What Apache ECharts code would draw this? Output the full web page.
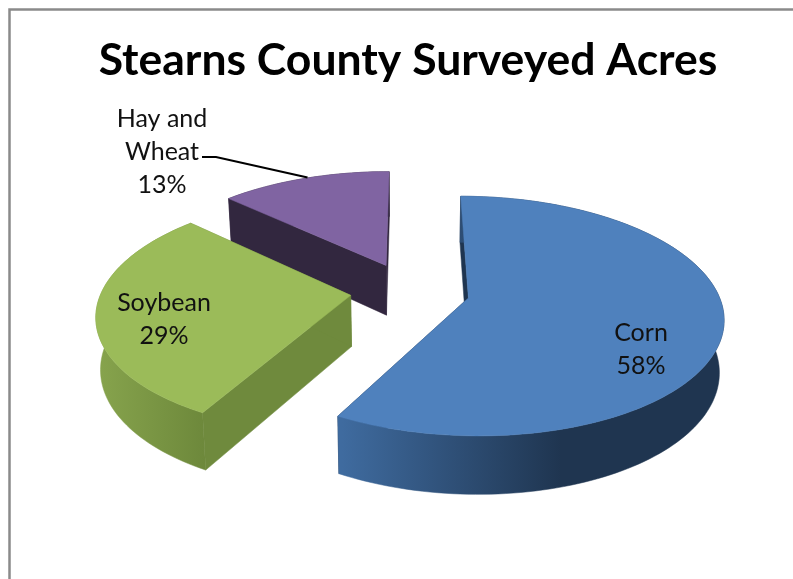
<!DOCTYPE html>
<html>
<head>
<meta charset="utf-8">
<style>html,body{margin:0;padding:0;background:#fff}#c{width:793px;height:579px}</style>
<script src="https://cdn.jsdelivr.net/npm/echarts@6/dist/echarts.min.js"></script>
</head>
<body>
<div id="c"></div>
<script>
const titleText = 'Stearns County Surveyed Acres';
const categories = ['Corn', 'Soybean', 'Hay and\nWheat'];
const percentValues = [58, 29, 13];

// 3D projection settings (layout only)
const view = {vx: 410, cy: 291, R: 249, K: 115, p: 0.15, H: 51, g: 0.985};
const explodeBy = [0.24, 0.24, 0.25];
const topColors = ['#4f81bd', '#9bbb59', '#8064a2'];
const cutColors = ['#1f3550', '#6f8a3d', '#32273f'];
const wallStops = [
  [[0, '#3f6b9f'], [0.58, '#1f3550'], [1, '#1f3550']],
  [[0, '#87a44d'], [1, '#6d883b']],
  [[0, '#32273f'], [1, '#32273f']]
];
const wallSpan = [[342, 720], [96, 206], [232, 388]];
const paintOrder = [3, 2, 1];
const labelAt = [[641, 349], [164, 319], [162, 152]];

const total = percentValues.reduce((a, b) => a + b, 0);
function project(X, Y, bottom) {
  const s = 1 / (1 - view.p * Y);
  const g = bottom ? view.g : 1;
  return [view.vx + X * view.R * s * g, view.cy + view.K * Y * s * g + (bottom ? view.H * s : 0)];
}
function renderSlice(params, api) {
  const i = params.dataIndex;
  const before = percentValues.slice(0, i).reduce((a, b) => a + b, 0);
  const a0 = before / total * Math.PI * 2;
  const a1 = (before + api.value(0)) / total * Math.PI * 2;
  const mid = (a0 + a1) / 2;
  const ox = Math.sin(mid) * explodeBy[i], oy = -Math.cos(mid) * explodeBy[i];
  const rim = [];
  const steps = Math.ceil((a1 - a0) / (Math.PI / 120));
  for (let k = 0; k <= steps; k++) {
    const a = a0 + (a1 - a0) * k / steps;
    rim.push([ox + Math.sin(a), oy - Math.cos(a)]);
  }
  const P = (q, b) => project(q[0], q[1], b);
  const apex = [ox, oy];
  const base = paintOrder[i] * 10;
  const first = rim[0], last = rim[rim.length - 1];
  const poly = (points, fill, z) => ({type: 'polygon', z2: base + z, shape: {points}, style: {fill, stroke: fill, lineWidth: 0.5}});
  const children = [
    poly([P(apex), P(first), P(first, true), P(apex, true)], cutColors[i], 1),
    poly([P(apex), P(last), P(last, true), P(apex, true)], cutColors[i], 1),
    poly(rim.map(q => P(q)).concat(rim.slice().reverse().map(q => P(q, true))), {
      type: 'linear', global: true, x: wallSpan[i][0], y: 0, x2: wallSpan[i][1], y2: 0,
      colorStops: wallStops[i].map(s => ({offset: s[0], color: s[1]}))
    }, 2),
    poly([P(apex)].concat(rim.map(q => P(q))), topColors[i], 3)
  ];
  children.push({
    type: 'text', z2: 100,
    style: {
      text: categories[i] + '\n' + api.value(0) + '%',
      x: labelAt[i][0], y: labelAt[i][1], align: 'center', verticalAlign: 'middle',
      fontFamily: 'Lato', fontSize: 25, lineHeight: 33, fill: '#111'
    }
  });
  if (i === 2) {
    const end = P([ox + Math.sin(mid), oy - Math.cos(mid)]);
    children.push({
      type: 'polyline', z2: 99,
      shape: {points: [[202, 157], [216, 157], [end[0] + 3, end[1] - 1]]},
      style: {stroke: '#000', lineWidth: 2, fill: null}
    });
  }
  return {type: 'group', children};
}
const chart = echarts.init(document.getElementById('c'), null, {renderer: 'canvas'});
chart.setOption({
  animation: false,
  backgroundColor: '#fff',
  title: {
    text: titleText, left: 403, top: 33, textAlign: 'center',
    textStyle: {fontFamily: 'Lato', fontWeight: 'bold', fontSize: 44.5, color: '#000'}
  },
  graphic: [{
    type: 'rect', silent: true,
    shape: {x: 9.5, y: 9.5, width: 900, height: 900},
    style: {fill: 'none', stroke: '#8a8a8a', lineWidth: 2.5}
  }],
  series: [{
    type: 'custom', coordinateSystem: 'none', renderItem: renderSlice,
    data: percentValues.map(v => [v])
  }]
});
</script>
</body>
</html>
